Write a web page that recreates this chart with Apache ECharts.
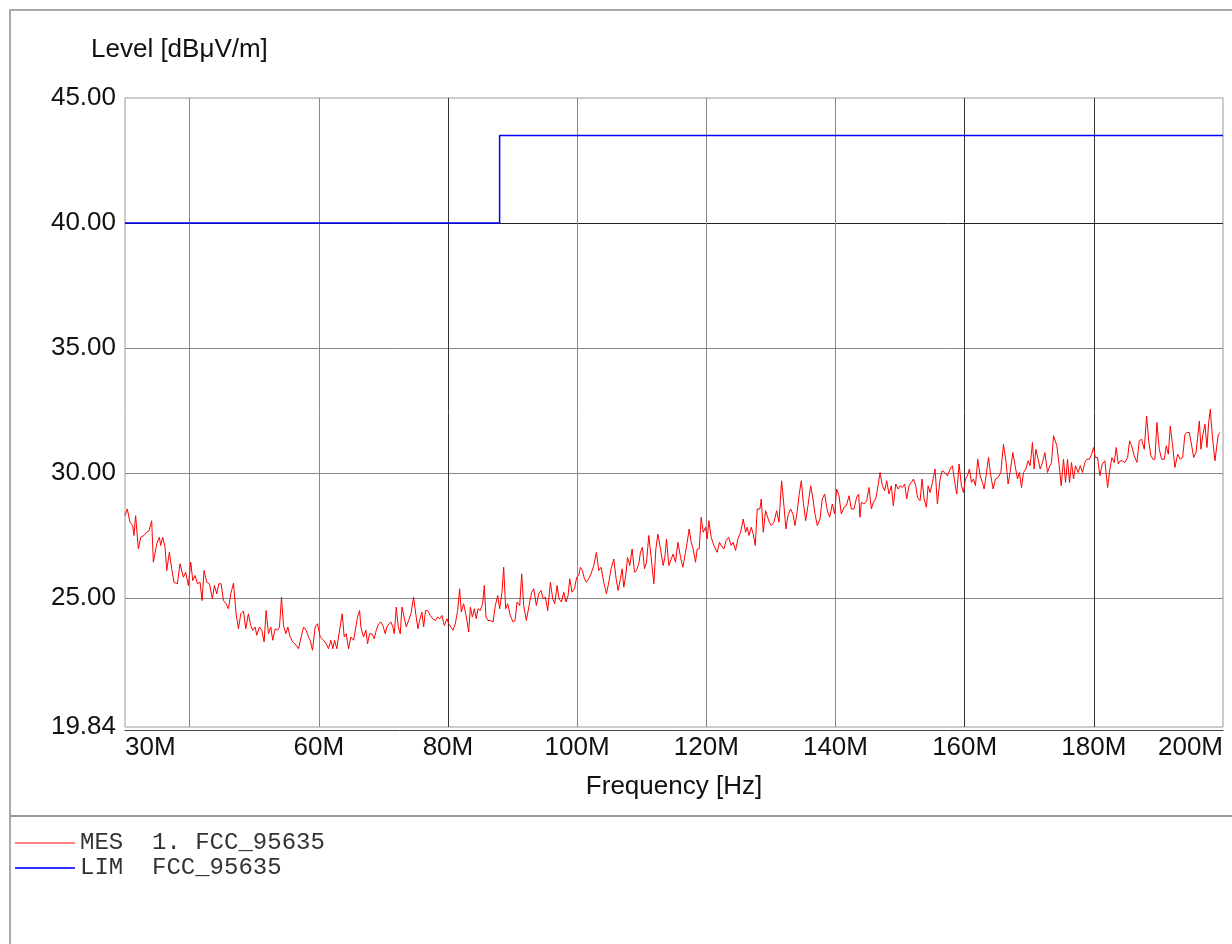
<!DOCTYPE html>
<html>
<head>
<meta charset="utf-8">
<script src="https://cdn.jsdelivr.net/npm/echarts@6/dist/echarts.min.js"></script>
<style>
  html, body { margin: 0; padding: 0; background: #fff; }
  #chart { width: 1232px; height: 944px; }
</style>
</head>
<body>
<div id="chart"></div>
<script>
const mesFreq = [
  30.00,30.36,30.77,31.19,31.39,31.65,32.07,32.43,32.94,33.36,
  33.72,34.13,34.39,34.91,35.32,35.53,35.84,36.20,36.46,36.87,
  37.23,37.59,38.11,38.52,39.04,39.40,39.81,40.18,40.49,40.85,
  41.21,41.62,41.93,42.24,42.66,43.07,43.53,43.84,44.21,44.52,
  44.88,45.24,45.65,46.01,46.38,46.79,47.20,47.56,47.93,48.34,
  48.70,49.11,49.47,49.78,50.15,50.40,50.82,51.18,51.54,51.85,
  52.21,52.57,52.88,53.25,53.61,53.92,54.23,54.54,54.90,55.21,
  55.57,55.98,56.50,56.86,57.12,57.64,58.05,58.41,58.67,59.03,
  59.44,59.81,60.22,60.74,61.15,61.51,61.87,62.18,62.44,62.80,
  63.06,63.32,63.63,63.94,64.25,64.61,64.97,65.39,65.75,66.00,
  66.32,66.52,66.93,67.30,67.56,67.86,68.23,68.59,68.90,69.26,
  69.62,69.93,70.29,70.55,70.86,71.17,71.48,71.69,72.00,72.31,
  72.62,72.88,73.13,73.55,73.91,74.27,74.68,75.05,75.35,75.61,
  75.97,76.23,76.54,76.85,77.27,77.63,78.04,78.40,78.71,79.07,
  79.44,79.85,80.11,80.37,80.78,81.14,81.50,81.81,82.07,82.43,
  82.85,83.21,83.47,83.78,84.09,84.39,84.65,85.01,85.37,85.63,
  85.89,86.20,86.56,
  86.98,87.34,87.70,88.01,88.37,88.63,88.94,89.25,89.66,90.08,
  90.39,90.70,91.11,91.42,91.73,92.14,92.56,92.97,93.28,93.69,
  94.05,94.42,94.73,95.09,95.45,95.86,96.22,96.53,96.90,97.20,
  97.57,97.93,98.29,98.60,98.86,99.22,99.58,99.94,100.25,100.51,
  100.82,101.13,101.44,101.80,102.16,102.58,102.99,103.35,103.71,104.13,
  104.54,104.90,105.26,105.68,106.04,106.35,106.71,106.97,107.23,107.59,
  107.80,108.16,108.52,108.88,109.19,109.55,109.81,110.12,110.43,110.74,
  111.10,111.46,111.88,112.19,112.50,112.91,113.32,113.58,113.84,114.20,
  114.56,114.87,115.23,115.60,116.01,116.37,116.78,117.04,117.35,117.66,
  117.97,118.33,118.59,118.90,119.21,119.52,119.88,120.14,120.40,120.76,
  121.17,121.69,122.05,122.31,122.72,123.08,123.45,123.86,124.17,124.53,
  124.89,125.31,125.72,126.08,126.34,126.60,126.96,127.27,127.58,127.89,
  128.30,128.51,128.82,129.18,129.44,129.75,130.06,130.47,130.89,131.25,
  131.66,132.02,132.33,132.64,133.05,133.42,133.73,134.09,134.35,134.71,
  135.02,135.38,135.74,136.16,136.52,136.83,137.19,137.60,137.96,138.33,
  138.74,139.10,139.51,139.87,140.18,140.55,140.91,141.32,141.68,142.10,
  142.46,142.87,143.28,143.59,143.80,
  144.01,144.42,144.83,145.19,145.56,145.87,146.23,146.59,146.90,147.26,
  147.62,147.93,148.29,148.65,148.96,149.33,149.69,150.00,150.36,150.72,
  151.03,151.39,151.75,152.07,152.43,152.69,153.10,
  153.41,153.72,154.08,154.34,154.65,155.01,155.42,155.78,156.20,156.51,
  156.92,157.33,157.75,158.11,158.47,158.78,159.14,159.50,159.81,160.12,
  160.43,160.74,161.05,161.36,161.67,162.03,162.40,162.76,163.01,163.32,
  163.69,164.05,164.41,164.77,165.18,165.60,166.01,166.42,166.73,167.04,
  167.46,167.82,168.18,168.49,168.80,169.11,169.47,169.83,170.14,170.50,
  170.76,171.02,171.38,171.69,172.05,172.42,172.83,173.19,173.45,173.76,
  174.02,174.28,174.64,174.95,175.31,175.62,175.93,176.24,176.55,176.86,
  177.17,177.58,177.89,178.25,178.61,178.93,179.29,179.65,179.96,180.22,
  180.58,180.94,181.30,181.71,182.13,182.49,182.80,183.16,183.47,183.78,
  184.09,184.40,184.81,185.23,185.54,185.85,186.26,186.67,187.04,187.40,
  187.81,188.17,188.53,188.84,189.15,189.46,189.77,190.13,190.50,190.91,
  191.22,191.53,191.84,192.20,192.56,192.98,193.39,193.75,194.11,194.42,
  194.78,195.15,195.46,195.82,196.34,196.59,196.85,197.21,197.52,197.78,
  198.04,198.24,198.50,198.76,199.07,199.28,199.59
];
const mesLevel = [
  28.29,28.56,28.03,27.90,27.50,28.29,26.96,27.43,27.50,27.63,
  27.69,28.09,26.43,27.16,27.43,27.10,27.43,27.03,26.10,26.83,
  26.17,25.63,25.57,26.37,25.83,26.03,25.50,26.43,25.70,25.90,
  25.57,25.63,24.90,26.10,25.63,25.57,24.97,25.50,25.17,25.57,
  25.57,24.90,24.77,24.57,25.17,25.59,24.37,23.77,24.37,24.48,
  23.77,24.37,23.90,23.71,23.84,23.51,23.84,23.71,23.24,24.50,
  23.57,23.84,23.31,23.77,23.71,23.84,25.03,23.90,23.57,23.84,
  23.44,23.24,23.11,22.97,22.97,23.84,23.71,23.44,23.31,22.91,
  23.84,23.97,23.44,23.31,23.17,22.97,23.31,22.97,23.31,22.97,
  23.44,23.44,24.37,23.44,23.57,22.97,23.44,23.31,23.84,24.24,
  24.50,23.84,23.44,23.71,23.17,23.57,23.57,23.37,23.71,23.97,
  24.04,23.90,23.57,23.84,23.97,24.04,23.84,23.57,24.64,23.84,
  23.57,24.64,24.64,23.84,24.10,24.37,25.03,24.30,23.77,24.10,
  24.44,23.84,24.50,24.50,24.30,24.17,24.10,24.24,24.17,24.30,
  23.90,24.17,23.97,24.04,23.71,23.97,24.50,25.37,24.44,24.77,
  24.24,23.64,24.64,24.24,24.57,24.17,24.57,24.50,24.77,25.50,
  24.24,24.10,24.10,
  24.04,24.70,25.10,24.57,25.23,26.23,24.57,24.77,24.30,24.04,
  24.10,24.84,24.70,25.97,24.70,24.10,24.70,25.23,25.37,24.70,
  25.17,25.30,24.97,25.03,24.50,25.63,24.97,24.77,25.50,24.97,
  24.84,25.23,24.84,25.10,25.77,25.23,25.37,25.83,25.90,26.23,
  26.10,25.77,25.63,25.77,25.97,26.30,26.83,26.10,26.23,25.63,
  25.17,25.63,26.17,26.56,25.77,25.30,25.77,26.17,25.43,26.03,
  26.63,26.30,26.96,26.03,26.10,26.37,26.83,27.03,26.17,26.43,
  27.50,26.63,25.57,26.96,27.56,26.96,26.30,26.63,27.36,26.30,
  26.56,26.76,26.43,27.23,26.63,26.23,26.83,27.23,27.76,27.23,
  26.96,26.43,26.96,26.96,28.23,27.63,27.83,27.36,28.09,27.43,
  27.10,26.83,27.23,27.10,26.96,27.30,27.43,27.10,27.23,26.90,
  27.36,27.63,28.16,27.63,27.83,27.50,27.83,27.56,27.10,28.56,
  28.56,28.96,27.63,28.49,28.56,28.03,27.90,28.03,28.49,28.03,
  29.69,28.69,27.76,28.29,28.56,28.36,27.90,28.49,29.09,29.69,
  28.83,28.09,28.69,29.49,28.96,28.36,27.90,28.16,28.96,29.16,
  28.49,28.23,28.76,28.36,29.36,29.09,28.36,28.63,28.69,29.09,
  28.56,28.56,29.03,29.16,28.23,
  28.83,28.76,28.89,29.42,28.56,28.83,28.96,29.49,30.02,29.49,
  29.29,29.69,29.16,29.49,28.69,29.56,29.36,29.49,29.42,29.56,
  28.96,29.49,29.62,29.76,29.49,29.03,28.89,
  29.76,28.96,28.63,29.49,29.22,29.62,30.16,28.76,29.76,30.09,
  30.02,29.89,30.16,30.29,29.62,29.16,30.36,29.49,29.22,29.76,
  29.89,30.16,29.62,29.76,29.49,30.55,29.89,29.62,29.36,29.89,
  30.62,29.89,29.36,29.76,29.82,30.02,31.15,30.42,29.56,30.02,
  30.82,30.29,29.76,30.02,29.42,30.02,30.16,30.49,30.29,31.22,
  30.16,30.95,30.55,30.16,30.42,30.82,30.02,30.29,30.42,31.49,
  31.55,31.09,30.29,29.49,30.55,29.62,30.55,29.62,30.42,29.76,
  30.29,30.02,30.29,30.02,30.42,30.55,30.55,30.75,31.02,30.62,
  30.62,29.89,30.36,30.49,29.42,30.16,30.62,30.42,31.02,30.36,
  30.49,30.49,30.42,30.62,31.29,31.09,30.69,30.42,31.29,31.35,
  30.95,32.28,31.22,30.69,30.55,30.55,32.02,30.95,30.55,30.55,
  31.09,30.75,31.88,31.09,30.22,30.75,30.55,30.62,31.55,31.62,
  31.62,31.09,30.62,30.82,32.08,30.95,31.49,31.95,31.02,32.02,
  32.55,31.82,31.09,30.49,31.15,31.55,31.62
];

// limit line (step at 88 MHz)
const limFreq = [30, 88, 88, 200];
const limLevel = [40, 40, 43.5, 43.5];

// axes
const xLabelValues = [30, 60, 80, 100, 120, 140, 160, 180, 200];
const xGridValues = [40, 60, 80, 100, 120, 140, 160, 180];
const yLabelValues = [19.84, 25, 30, 35, 40, 45];
const yGridValues = [25, 30, 35, 40];

const mesName = 'MES  1. FCC_95635';
const limName = 'LIM  FCC_95635';

const chart = echarts.init(document.getElementById('chart'));

const sansFont = 'Liberation Sans, Arial, sans-serif';

const option = {
  animation: false,
  backgroundColor: '#fff',
  title: {
    text: 'Level [dBμV/m]',
    left: 86,
    top: 32,
    textStyle: { fontSize: 26, fontWeight: 'normal', color: '#111', fontFamily: sansFont }
  },
  legend: {
    orient: 'vertical',
    left: 10,
    top: 826,
    itemWidth: 60,
    itemHeight: 2,
    itemGap: 1,
    icon: 'rect',
    textStyle: { fontFamily: 'Liberation Mono, Courier New, monospace', fontSize: 24, color: '#333' },
    data: [
      { name: mesName, itemStyle: { color: '#ff8080' } },
      { name: limName, itemStyle: { color: '#3333ff' } }
    ]
  },
  grid: {
    left: 125, right: 9, top: 98, bottom: 217,
    show: true, borderColor: '#999', borderWidth: 1
  },
  xAxis: {
    type: 'value',
    min: 30, max: 200,
    offset: 3,
    name: 'Frequency [Hz]',
    nameLocation: 'middle',
    nameGap: 44,
    nameTextStyle: { fontSize: 26, color: '#111', fontFamily: sansFont },
    axisLine: { show: true, lineStyle: { color: '#444', width: 1 } },
    axisTick: { show: false, customValues: xGridValues },
    axisLabel: {
      customValues: xLabelValues,
      formatter: v => v + 'M',
      fontSize: 26, color: '#111', fontFamily: sansFont,
      margin: 5,
      alignMinLabel: 'left',
      alignMaxLabel: 'right'
    },
    splitLine: {
      show: true,
      lineStyle: { color: ['#888', '#888', '#333', '#888', '#888', '#888', '#333', '#333'], width: 1 }
    }
  },
  yAxis: {
    type: 'value',
    min: 19.84, max: 45,
    axisLine: { show: false },
    axisTick: { show: false, customValues: yGridValues },
    axisLabel: {
      customValues: yLabelValues,
      formatter: v => v.toFixed(2),
      fontSize: 26, color: '#111', fontFamily: sansFont,
      margin: 9
    },
    splitLine: {
      show: true,
      lineStyle: { color: ['#888', '#888', '#888', '#222'], width: 1 }
    }
  },
  graphic: [
    {
      type: 'rect', z: -10, silent: true,
      shape: { x: 10, y: 10, width: 1250, height: 960 },
      style: { fill: 'none', stroke: '#aaa', lineWidth: 2 }
    },
    {
      type: 'line', z: -10, silent: true,
      shape: { x1: 10, y1: 816, x2: 1232, y2: 816 },
      style: { stroke: '#999', lineWidth: 2 }
    }
  ],
  series: [
    {
      name: mesName,
      type: 'line',
      data: mesFreq.map((f, i) => [f, mesLevel[i]]),
      showSymbol: false,
      silent: true,
      color: '#ff0000',
      lineStyle: { color: '#ff0000', width: 1 },
      z: 3
    },
    {
      name: limName,
      type: 'line',
      data: limFreq.map((f, i) => [f, limLevel[i]]),
      showSymbol: false,
      silent: true,
      color: '#0000ff',
      lineStyle: { color: '#0000ff', width: 1.5 },
      z: 4
    }
  ]
};

chart.setOption(option);
</script>
</body>
</html>
